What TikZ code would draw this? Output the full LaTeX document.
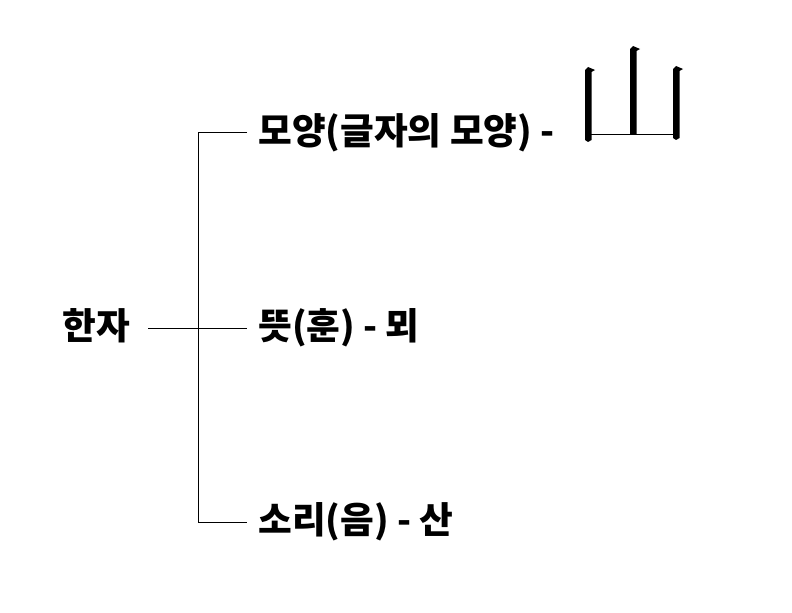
\documentclass[tikz,border=0pt]{standalone}
\usepackage{fontspec}
\newfontfamily\krfont{Noto Sans CJK KR}
\usepackage{tikz}
\usetikzlibrary{positioning,calc}

\tikzset{
    label/.style={font=\krfont\bfseries\fontsize{27.5}{32}\selectfont, inner sep=0pt},
    branch/.style={line width=0.75pt},
    bar/.style={fill=black, draw=none}
}

\begin{document}
\begin{tikzpicture}[x=0.75pt, y=-0.75pt]
    \useasboundingbox (0,0) rectangle (792,613);

    % Root
    \node[label, anchor=east] (root) at (130,326) {한자};

    % Branches
    \node[label, anchor=west] (shape) at (258,133) {모양(글자의 모양) -};
    \node[label, anchor=west] (meaning) at (258,328) {뜻(훈) - 뫼};
    \node[label, anchor=west] (sound) at (258,522) {소리(음) - 산};

    \coordinate (fork) at (198,328);
    \draw[branch] (root.east) ++(18,2) -- ($(meaning.west)+(-11,0)$);
    \draw[branch] ($(shape.west)+(-11,0)$) -- (fork |- shape.west) -- (fork |- sound.west) -- ($(sound.west)+(-11,0)$);

    % Hanja: mountain
    \fill[bar] (585,70) -- (588,67) -- (595,70) -- (591.5,72) -- (591.5,140) -- (588,142) -- (585,140) -- cycle;
    \fill[bar] (630,49) -- (633,46) -- (640,49) -- (636.5,51) -- (636.5,134) -- (630,134) -- cycle;
    \fill[bar] (673,69) -- (676,66) -- (683,69) -- (679.5,71) -- (679.5,138) -- (676,140) -- (673,138) -- cycle;
    \draw[line width=1.2pt] (590,134.5) -- (674,134.5);
\end{tikzpicture}
\end{document}
